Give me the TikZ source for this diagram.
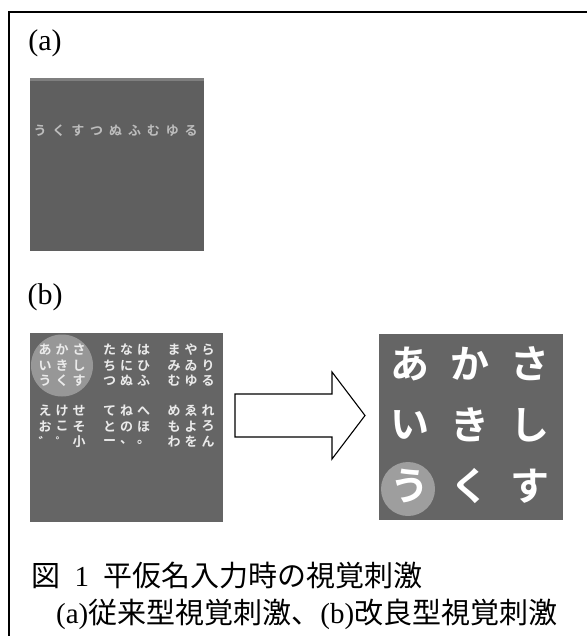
\documentclass[tikz,border=0pt]{standalone}
\usepackage{fontspec}
\setmainfont{Liberation Serif}
\newfontfamily\jpfont{Noto Sans CJK JP}
\newfontfamily\jpbold{Noto Sans CJK JP Bold}

\definecolor{panelgray}{HTML}{656565}
\definecolor{panelgrayA}{HTML}{5f5f5f}
\definecolor{flashgray}{HTML}{a9a9a9}
\definecolor{rowgray}{HTML}{bdbdbd}

\begin{document}
\begin{tikzpicture}[x=1pt,y=-1pt]
\tikzstyle{every node}=[inner sep=0pt]
\tikzstyle{label}=[font=\fontsize{30}{34}\selectfont]
\tikzstyle{panel}=[fill=panelgray,draw=none]
\tikzstyle{kana}=[font=\jpbold\fontsize{13}{14}\selectfont,text=white!92!black]
\tikzstyle{bigkana}=[font=\jpbold\fontsize{39}{42}\selectfont,text=white]
\tikzstyle{caption}=[font=\fontsize{29}{34}\selectfont,anchor=west]

\useasboundingbox (0,0) rectangle (587,636);
\fill[white] (0,0) rectangle (587,636);

% open frame: top and left rule only
\draw[line width=1.6pt] (9,636) -- (9,12) -- (587,12);

% (a) conventional speller, one row flashing
\node[label] (labA) at (45,43) {(a)};
\fill[panelgrayA] (30,78) rectangle (204,251);
\fill[white!20!panelgrayA] (30,78) rectangle (204,81);
\foreach \ch [count=\i from 0] in {う,く,す,つ,ぬ,ふ,む,ゆ,る}
	\node[kana,text=rowgray] (a\i) at ({40+18.9*\i},131) {\ch};

% (b) improved speller, group flashing
\node[label] (labB) at (45,297) {(b)};
\fill[panel] (30,333) rectangle (223,522);
\fill[flashgray,opacity=0.75] (62,365.5) circle (31);
\foreach \row [count=\r from 0] in {{あ,か,さ,た,な,は,ま,や,ら},{い,き,し,ち,に,ひ,み,ゐ,り},{う,く,す,つ,ぬ,ふ,む,ゆ,る},{え,け,せ,て,ね,へ,め,ゑ,れ},{お,こ,そ,と,の,ほ,も,よ,ろ},{゛,゜,小,ー,、,。,わ,を,ん}}
	\foreach \ch [count=\c from 0] in \row {
		\pgfmathsetmacro\px{45+17*mod(\c,3)+64.5*int(\c/3)}
		\pgfmathsetmacro\py{350+15.5*mod(\r,3)+61*int(\r/3)}
		\node[kana] (b\r\c) at (\px,\py) {\ch};
	}

% block arrow between the two views
\draw[line width=1.1pt,fill=white,line join=miter]
	(235,394) -- (332,394) -- (332,372) -- (365,415.5) -- (332,459)
	-- (332,437) -- (235,437) -- cycle;

% zoomed group of the selected block
\fill[panel] (379,334) rectangle (563,520);
\fill[flashgray,opacity=0.85] (408,489) circle (27);
\foreach \ch [count=\i from 0] in {あ,か,さ,い,き,し,う,く,す} {
	\pgfmathsetmacro\px{410+60*mod(\i,3)}
	\pgfmathsetmacro\py{364+61*int(\i/3)}
	\node[bigkana] (z\i) at (\px,\py) {\ch};
}

% caption
\node[caption] (cap1) at (31,576) {{\jpfont 図}\hspace{0.5em}1\hspace{0.5em}{\jpfont 平仮名入力時の視覚刺激}};
\node[caption] (cap2) at (56,614) {(a){\jpfont 従来型視覚刺激、}(b){\jpfont 改良型視覚刺激}};

\end{tikzpicture}
\end{document}
